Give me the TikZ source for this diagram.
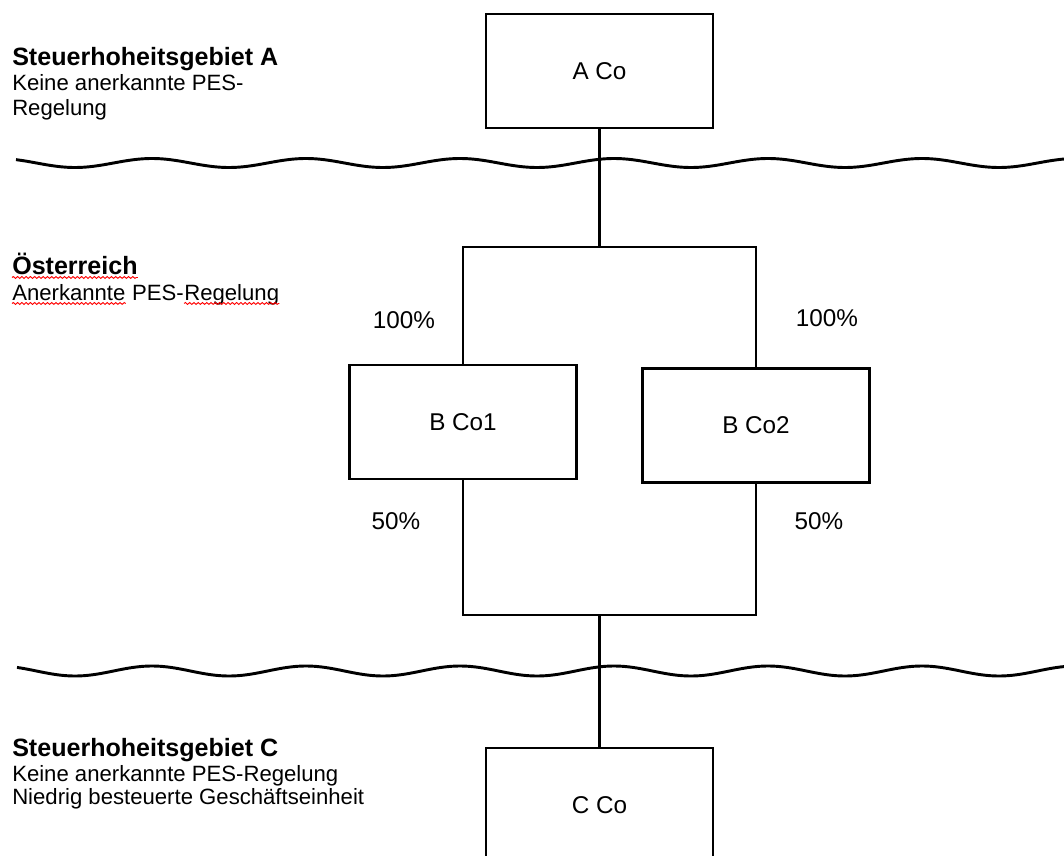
\documentclass[tikz,border=0pt]{standalone}
\usepackage{fontspec}
\setmainfont{Liberation Sans}
\usetikzlibrary{decorations.pathmorphing}
\begin{document}
\begin{tikzpicture}[x=0.75pt,y=-0.75pt,
  conn/.style={line width=1.9pt},
  cobox/.style={draw,line width=1.9pt,minimum width=170.25pt,minimum height=85.5pt,inner sep=0pt,font=\fontsize{18.2}{22}\selectfont},
  pct/.style={inner sep=0pt,font=\fontsize{18.2}{22}\selectfont},
  ttl/.style={anchor=base west,inner sep=0pt,font=\fontsize{18.8}{22}\selectfont\bfseries},
  txt/.style={anchor=base west,inner sep=0pt,font=\fontsize{16.6}{20}\selectfont},
  wave/.style={line width=2.2pt},
  spell/.style={draw=red,line width=0.7pt,decorate,decoration={snake,amplitude=0.7pt,segment length=3.2pt}}]
\useasboundingbox (0,0) rectangle (1064,856);
\clip (0,0) rectangle (1064,856);

% wavy borders
\draw[wave] plot[domain=16:1064,samples=300,smooth] (\x,{163+4.5*sin((\x-36.5)/154*360)});
\draw[wave] plot[domain=17:1064,samples=300,smooth] (\x,{671+5*sin((\x-36.5)/154*360)});

% company boxes
\node[cobox] (aco) at (599.5,71) {A Co};
\node[cobox] (b1) at (463,422) {B Co1};
\node[cobox] (b2) at (756,425.5) {B Co2};
\node[cobox] (cco) at (599.5,805) {C Co};

\coordinate (tm) at (599.5,247);
\coordinate (bm) at (599.5,615);

\draw[conn] (aco.south) -- (tm);
\draw[conn] (b1.north) -- (b1.north |- tm) -- (b2.north |- tm) -- (b2.north);
\draw[conn] (b1.south) -- (b1.south |- bm) -- (b2.south |- bm) -- (b2.south);
\draw[conn] (bm) -- (cco.north);

% percentages
\node[pct] (p1) at (404,320) {100\%};
\node[pct] (p2) at (827,318) {100\%};
\node[pct] (p3) at (396,521) {50\%};
\node[pct] (p4) at (819,521) {50\%};

% jurisdiction A
\node[ttl] (ta) at (12,65) {Steuerhoheitsgebiet A};
\node[txt] (ta2) at (12,91) {Keine anerkannte PES-};
\node[txt] (ta3) at (12,115) {Regelung};

% Austria
\node[ttl] (oe) at (12,274) {Österreich};
\node[txt] (at1) at (12,300) {Anerkannte};
\node[txt] (at2) at (at1.base east) {\ PES-};
\node[txt] (at3) at (at2.base east) {Regelung};
\draw[spell] ([yshift=-2.6pt]oe.base west) -- ([yshift=-2.6pt]oe.base east);
\draw[spell] ([yshift=-2.6pt]at1.base west) -- ([yshift=-2.6pt]at1.base east);
\draw[spell] ([yshift=-2.6pt]at3.base west) -- ([yshift=-2.6pt]at3.base east);

% jurisdiction C
\node[ttl] (tc) at (12,756) {Steuerhoheitsgebiet C};
\node[txt] (tc2) at (12,781) {Keine anerkannte PES-Regelung};
\node[txt] (tc3) at (12,804) {Niedrig besteuerte Geschäftseinheit};
\end{tikzpicture}
\end{document}
